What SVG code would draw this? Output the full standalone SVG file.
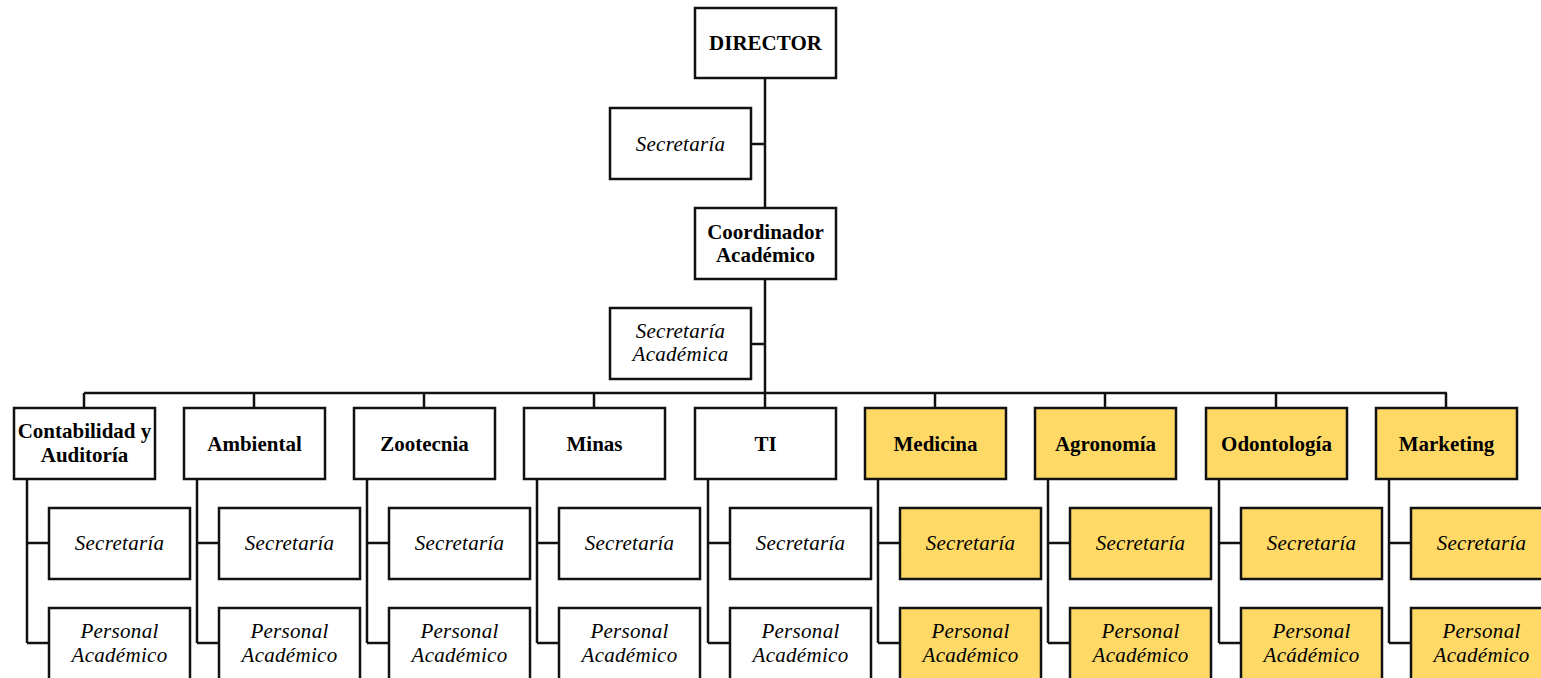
<svg xmlns="http://www.w3.org/2000/svg" width="1541" height="678" viewBox="0 0 1541 678">
<style>
  .box { fill: #ffffff; stroke: #111111; stroke-width: 2.5; }
  .ybox { fill: #FFD966; stroke: #111111; stroke-width: 2.5; }
  .b { font-family: "Liberation Serif", "Times New Roman", serif; font-weight: bold; font-size: 21px; fill: #000; text-anchor: middle; }
  .i { font-family: "Liberation Serif", "Times New Roman", serif; font-style: italic; font-size: 21px; letter-spacing: 0.3px; fill: #000; text-anchor: middle; }
  .ln { fill: none; stroke: #111111; stroke-width: 2.5; }
</style>
<rect width="1541" height="678" fill="#ffffff"/>
<g id="connectors">
  <path class="ln" d="M765,78 V393 M751,144 H765 M751,344 H765 M84,393 H1447"/>
  <path class="ln" d="M84,393 V408 M254,393 V408 M424,393 V408 M594,393 V408 M765,393 V408 M935,393 V408 M1105,393 V408 M1276,393 V408 M1446,393 V408"/>
  <path class="ln" d="M27,479 V643 M27,543 H49 M27,643 H49"/>
  <path class="ln" d="M197,479 V643 M197,543 H219 M197,643 H219"/>
  <path class="ln" d="M367,479 V643 M367,543 H389 M367,643 H389"/>
  <path class="ln" d="M537,479 V643 M537,543 H559 M537,643 H559"/>
  <path class="ln" d="M708,479 V643 M708,543 H730 M708,643 H730"/>
  <path class="ln" d="M878,479 V643 M878,543 H900 M878,643 H900"/>
  <path class="ln" d="M1048,479 V643 M1048,543 H1070 M1048,643 H1070"/>
  <path class="ln" d="M1219,479 V643 M1219,543 H1241 M1219,643 H1241"/>
  <path class="ln" d="M1389,479 V643 M1389,543 H1411 M1389,643 H1411"/>
</g>
<g id="director"><rect class="box" x="695" y="8" width="141" height="70"/><text class="b" x="765.5" y="50">DIRECTOR</text></g>
<g id="secretaria"><rect class="box" x="610" y="108" width="141" height="71"/><text class="i" x="680.5" y="151">Secretaría</text></g>
<g id="coordinador"><rect class="box" x="695" y="208" width="141" height="71"/><text class="b" x="765.5" y="239">Coordinador</text><text class="b" x="765.5" y="262">Académico</text></g>
<g id="secretaria-academica"><rect class="box" x="610" y="308" width="141" height="71"/><text class="i" x="680.5" y="338">Secretaría</text><text class="i" x="680.5" y="361">Académica</text></g>

<g id="contabilidad"><rect class="box" x="14" y="408" width="141" height="71"/><text class="b" x="84.5" y="438">Contabilidad y</text><text class="b" x="84.5" y="462">Auditoría</text></g>
<g id="contabilidad-sec"><rect class="box" x="49" y="508" width="141" height="71"/><text class="i" x="119.5" y="550">Secretaría</text></g>
<g id="contabilidad-pa"><rect class="box" x="49" y="608" width="141" height="80"/><text class="i" x="119.5" y="638">Personal</text><text class="i" x="119.5" y="662">Académico</text></g>

<g id="ambiental"><rect class="box" x="184" y="408" width="141" height="71"/><text class="b" x="254.5" y="451">Ambiental</text></g>
<g id="ambiental-sec"><rect class="box" x="219" y="508" width="141" height="71"/><text class="i" x="289.5" y="550">Secretaría</text></g>
<g id="ambiental-pa"><rect class="box" x="219" y="608" width="141" height="80"/><text class="i" x="289.5" y="638">Personal</text><text class="i" x="289.5" y="662">Académico</text></g>

<g id="zootecnia"><rect class="box" x="354" y="408" width="141" height="71"/><text class="b" x="424.5" y="451">Zootecnia</text></g>
<g id="zootecnia-sec"><rect class="box" x="389" y="508" width="141" height="71"/><text class="i" x="459.5" y="550">Secretaría</text></g>
<g id="zootecnia-pa"><rect class="box" x="389" y="608" width="141" height="80"/><text class="i" x="459.5" y="638">Personal</text><text class="i" x="459.5" y="662">Académico</text></g>

<g id="minas"><rect class="box" x="524" y="408" width="141" height="71"/><text class="b" x="594.5" y="451">Minas</text></g>
<g id="minas-sec"><rect class="box" x="559" y="508" width="141" height="71"/><text class="i" x="629.5" y="550">Secretaría</text></g>
<g id="minas-pa"><rect class="box" x="559" y="608" width="141" height="80"/><text class="i" x="629.5" y="638">Personal</text><text class="i" x="629.5" y="662">Académico</text></g>

<g id="ti"><rect class="box" x="695" y="408" width="141" height="71"/><text class="b" x="765.5" y="451">TI</text></g>
<g id="ti-sec"><rect class="box" x="730" y="508" width="141" height="71"/><text class="i" x="800.5" y="550">Secretaría</text></g>
<g id="ti-pa"><rect class="box" x="730" y="608" width="141" height="80"/><text class="i" x="800.5" y="638">Personal</text><text class="i" x="800.5" y="662">Académico</text></g>

<g id="medicina"><rect class="ybox" x="865" y="408" width="141" height="71"/><text class="b" x="935.5" y="451">Medicina</text></g>
<g id="medicina-sec"><rect class="ybox" x="900" y="508" width="141" height="71"/><text class="i" x="970.5" y="550">Secretaría</text></g>
<g id="medicina-pa"><rect class="ybox" x="900" y="608" width="141" height="80"/><text class="i" x="970.5" y="638">Personal</text><text class="i" x="970.5" y="662">Académico</text></g>

<g id="agronomia"><rect class="ybox" x="1035" y="408" width="141" height="71"/><text class="b" x="1105.5" y="451">Agronomía</text></g>
<g id="agronomia-sec"><rect class="ybox" x="1070" y="508" width="141" height="71"/><text class="i" x="1140.5" y="550">Secretaría</text></g>
<g id="agronomia-pa"><rect class="ybox" x="1070" y="608" width="141" height="80"/><text class="i" x="1140.5" y="638">Personal</text><text class="i" x="1140.5" y="662">Académico</text></g>

<g id="odontologia"><rect class="ybox" x="1206" y="408" width="141" height="71"/><text class="b" x="1276.5" y="451">Odontología</text></g>
<g id="odontologia-sec"><rect class="ybox" x="1241" y="508" width="141" height="71"/><text class="i" x="1311.5" y="550">Secretaría</text></g>
<g id="odontologia-pa"><rect class="ybox" x="1241" y="608" width="141" height="80"/><text class="i" x="1311.5" y="638">Personal</text><text class="i" x="1311.5" y="662">Acádémico</text></g>

<g id="marketing"><rect class="ybox" x="1376" y="408" width="141" height="71"/><text class="b" x="1446.5" y="451">Marketing</text></g>
<g id="marketing-sec"><rect class="ybox" x="1411" y="508" width="141" height="71"/><text class="i" x="1481.5" y="550">Secretaría</text></g>
<g id="marketing-pa"><rect class="ybox" x="1411" y="608" width="141" height="80"/><text class="i" x="1481.5" y="638">Personal</text><text class="i" x="1481.5" y="662">Académico</text></g>
</svg>
